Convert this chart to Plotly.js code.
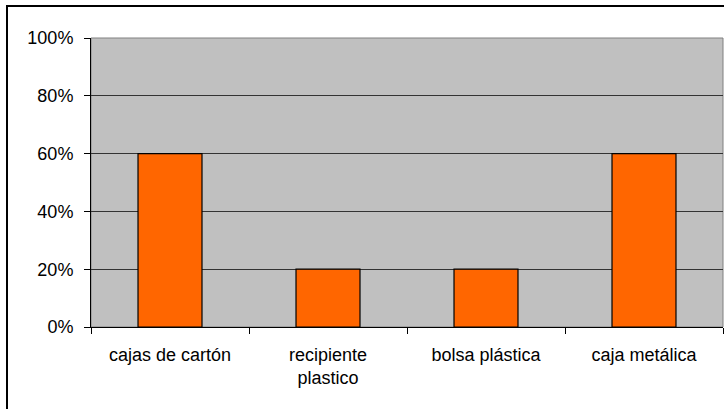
<!DOCTYPE html>
<html>
<head>
<meta charset="utf-8">
<script src="https://cdn.plot.ly/plotly-3.0.1.min.js"></script>
<style>
  html, body { margin: 0; padding: 0; background: #fff; }
  #wrap { position: relative; width: 724px; height: 409px; overflow: hidden; }
  #frame { position: absolute; left: 6px; top: 5px; width: 800px; height: 500px;
           border-left: 2px solid #000; border-top: 2px solid #000; box-sizing: border-box; pointer-events: none; }
  #chart { position: absolute; left: 0; top: 0; width: 724px; height: 409px; }
</style>
</head>
<body>
<div id="wrap">
  <div id="chart"></div>
  <div id="frame"></div>
</div>
<script>
// Envases usados (fracción de respuestas)
const categories = ["cajas de cartón", "recipiente<br>plastico", "bolsa plástica", "caja metálica"];
const shares = [0.6, 0.2, 0.2, 0.6];
const yTicks = [0, 0.2, 0.4, 0.6, 0.8, 1.0];

const font = { family: "Liberation Sans, Arial, sans-serif", size: 18, color: "#000" };

const trace = {
  type: "bar",
  x: categories,
  y: shares,
  marker: { color: "#FF6600", line: { color: "#000", width: 1.2 } },
  hoverinfo: "skip"
};

const layout = {
  width: 724,
  height: 409,
  margin: { l: 91, r: 1, t: 38, b: 82, pad: 0 },
  paper_bgcolor: "rgba(0,0,0,0)",
  plot_bgcolor: "#C0C0C0",
  font: font,
  showlegend: false,
  bargap: 0.595,
  xaxis: {
    type: "category",
    tickson: "boundaries",
    ticks: "outside",
    ticklen: 6,
    tickcolor: "#000",
    tickwidth: 1,
    showline: true,
    linecolor: "#000",
    linewidth: 1,
    showgrid: false,
    tickfont: font,
    ticklabelstandoff: 11,
    fixedrange: true
  },
  yaxis: {
    range: [0, 1],
    tickvals: yTicks,
    tickformat: ".0%",
    ticks: "outside",
    ticklen: 6,
    tickcolor: "#000",
    tickwidth: 1,
    showline: true,
    linecolor: "#000",
    linewidth: 1,
    showgrid: true,
    gridcolor: "#333",
    gridwidth: 1,
    zeroline: false,
    tickfont: font,
    ticklabelstandoff: 7,
    fixedrange: true
  },
  shapes: [{
    type: "rect", xref: "paper", yref: "paper",
    x0: 0, x1: 1, y0: 0, y1: 1,
    line: { color: "#808080", width: 1 },
    layer: "below"
  }]
};

Plotly.newPlot("chart", [trace], layout, { staticPlot: true, displayModeBar: false });
</script>
</body>
</html>
